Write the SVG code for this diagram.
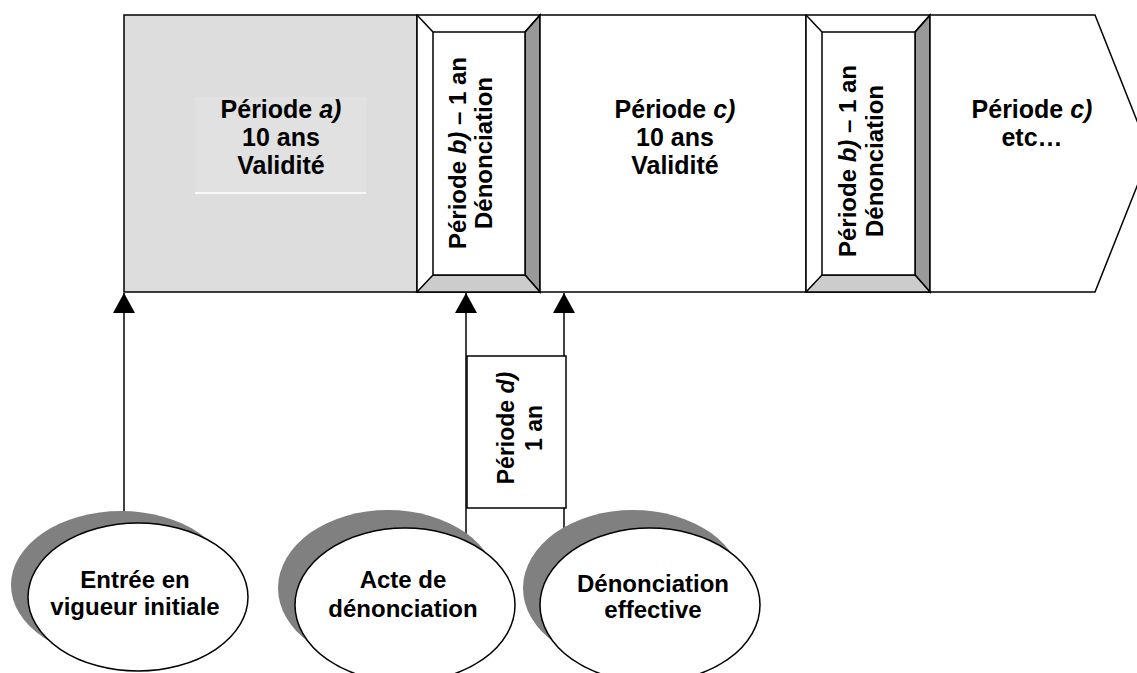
<svg xmlns="http://www.w3.org/2000/svg" width="1137" height="673" viewBox="0 0 1137 673">
<defs>
<style>
.t{font-family:"Liberation Sans",Arial,sans-serif;font-weight:bold;font-size:24px;fill:#000;text-anchor:middle}
.b{font-size:25px}
.r{font-size:23px}
.rb{font-size:24px}
.box{stroke:#000;stroke-width:1.5}
.ln{stroke:#000;stroke-width:1.5;fill:none}
.sh{fill:#808080}
.el{fill:#fff;stroke:#000;stroke-width:1.5}
</style>
<marker id="ah" markerUnits="userSpaceOnUse" markerWidth="20" markerHeight="22" refX="20" refY="11" orient="auto" viewBox="0 0 20 22">
<path d="M0,0 L20,11 L0,22 Z" fill="#000"/>
</marker>
</defs>
<rect width="1137" height="673" fill="#fff"/>

<g id="connectors">
<line class="ln" x1="124" y1="520" x2="124" y2="293" marker-end="url(#ah)"/>
<line class="ln" x1="466" y1="545" x2="466" y2="293" marker-end="url(#ah)"/>
<line class="ln" x1="564" y1="540" x2="564" y2="293" marker-end="url(#ah)"/>
</g>

<g id="periode-a">
<rect class="box" x="124" y="15" width="293" height="277" fill="#dddddd"/>
<rect x="195" y="97" width="171" height="96" fill="#e1e1e1"/>
<line x1="195" y1="193" x2="366" y2="193" stroke="#fff" stroke-width="1.5"/>
<text class="t b" x="281" y="118">Période <tspan font-style="italic">a)</tspan></text>
<text class="t b" x="281" y="146">10 ans</text>
<text class="t b" x="281" y="174">Validité</text>
</g>

<g id="periode-b1">
<rect class="box" x="417" y="15" width="123" height="277" fill="#fff"/>
<polygon class="box" points="540,15 540,292 525,275 525,32" fill="#999"/>
<polygon class="box" points="417,292 540,292 525,275 433,275" fill="#cccccc"/>
<line class="ln" x1="417" y1="15" x2="433" y2="32"/>
<line class="ln" x1="540" y1="15" x2="525" y2="32"/>
<rect class="box" x="433" y="32" width="92" height="243" fill="#fff"/>
<text class="t rb" transform="translate(466,153) rotate(-90)">Période <tspan font-style="italic">b)</tspan> – 1 an</text>
<text class="t rb" transform="translate(492,153) rotate(-90)">Dénonciation</text>
</g>

<g id="periode-c">
<rect class="box" x="540" y="15" width="266" height="277" fill="#fff"/>
<text class="t b" x="675" y="118">Période <tspan font-style="italic">c)</tspan></text>
<text class="t b" x="675" y="146">10 ans</text>
<text class="t b" x="675" y="174">Validité</text>
</g>

<g id="periode-b2">
<rect class="box" x="806" y="15" width="124" height="277" fill="#fff"/>
<polygon class="box" points="930,15 930,292 915,275 915,32" fill="#999"/>
<polygon class="box" points="806,292 930,292 915,275 822,275" fill="#cccccc"/>
<line class="ln" x1="806" y1="15" x2="822" y2="32"/>
<line class="ln" x1="930" y1="15" x2="915" y2="32"/>
<rect class="box" x="822" y="32" width="93" height="243" fill="#fff"/>
<text class="t rb" transform="translate(856,161) rotate(-90)">Période <tspan font-style="italic">b)</tspan> – 1 an</text>
<text class="t rb" transform="translate(883,161) rotate(-90)">Dénonciation</text>
</g>

<g id="periode-c-etc">
<polygon class="box" points="930,15 1095,15 1150,153.5 1095,292 930,292" fill="#fff"/>
<text class="t b" x="1032" y="118">Période <tspan font-style="italic">c)</tspan></text>
<text class="t b" x="1032" y="146">etc…</text>
</g>

<g id="periode-d">
<rect class="box" x="467" y="356" width="99" height="152" fill="#fff"/>
<text class="t r" transform="translate(514,428) rotate(-90)">Période <tspan font-style="italic">d)</tspan></text>
<text class="t r" transform="translate(542,428) rotate(-90)">1 an</text>
</g>

<g id="entree-vigueur">
<ellipse class="sh" cx="121" cy="585" rx="110" ry="74"/>
<ellipse class="el" cx="138" cy="597" rx="110" ry="74"/>
<text class="t" x="135" y="588">Entrée en</text>
<text class="t" x="135" y="615">vigueur initiale</text>
</g>

<g id="acte-denonciation">
<ellipse class="sh" cx="388" cy="588" rx="110" ry="78"/>
<ellipse class="el" cx="405" cy="605" rx="110" ry="77"/>
<text class="t" x="403" y="588">Acte de</text>
<text class="t" x="403" y="617">dénonciation</text>
</g>

<g id="denonciation-effective">
<ellipse class="sh" cx="633" cy="588" rx="110" ry="78"/>
<ellipse class="el" cx="650" cy="605" rx="110" ry="77"/>
<text class="t" x="653" y="592">Dénonciation</text>
<text class="t" x="653" y="618">effective</text>
</g>
</svg>
